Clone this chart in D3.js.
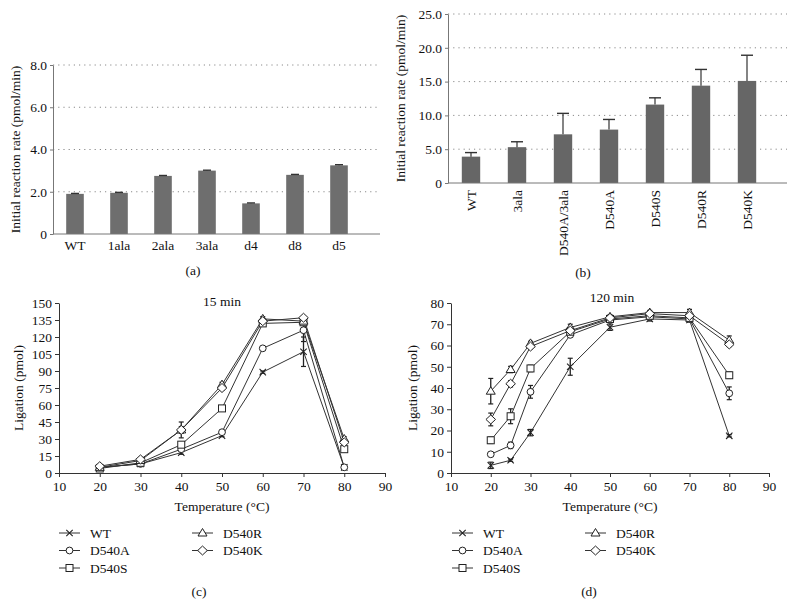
<!DOCTYPE html>
<html>
<head>
<meta charset="utf-8">
<script src="https://cdn.jsdelivr.net/npm/d3@7"></script>
<style>
  html, body { margin: 0; padding: 0; background: #fff; }
  svg text { font-family: "Liberation Serif", "DejaVu Serif", serif; fill: #111; }
</style>
</head>
<body>
<svg id="chart" width="787" height="606"></svg>
<script>
// ---------- DATA ----------
const catsA = ["WT", "1ala", "2ala", "3ala", "d4", "d8", "d5"];
const valsA = [1.90, 1.95, 2.75, 3.00, 1.45, 2.80, 3.25];
const errA  = [0.02, 0.02, 0.02, 0.02, 0.02, 0.02, 0.03];
const ticksA = [0, 2, 4, 6, 8];
const tickLabelsA = ["0", "2.0", "4.0", "6.0", "8.0"];

const catsB = ["WT", "3ala", "D540A/3ala", "D540A", "D540S", "D540R", "D540K"];
const valsB = [3.9, 5.3, 7.2, 7.9, 11.6, 14.4, 15.1];
const errB  = [0.6, 0.8, 3.1, 1.5, 1.0, 2.4, 3.8];
const ticksB = [0, 5, 10, 15, 20, 25];
const tickLabelsB = ["0", "5.0", "10.0", "15.0", "20.0", "25.0"];

const seriesNames = ["WT", "D540A", "D540S", "D540R", "D540K"];
const seriesMarkers = ["x", "circle", "square", "triangle", "diamond"];

const tempsC = [20, 30, 40, 50, 60, 70, 80];
const wtC     = [5, 8, 18, 33, 89, 107, 5];
const d540aC  = [5, 8, 21, 36, 110, 126, 5];
const d540sC  = [4, 9, 25, 57, 132, 133, 21];
const d540rC  = [5, 11, 38, 78, 136, 134, 30];
const d540kC  = [6, 12, 38, 75, 134, 137, 27];
const wtCErr    = [0.5, 0.5, 1.5, 1, 1, 13, 0.5];
const d540aCErr = [0.5, 0.5, 1, 1, 1, 10, 0.5];
const d540sCErr = [0.5, 0.5, 2, 1, 1, 2, 2];
const d540rCErr = [0.5, 1, 7, 2, 2, 2, 2];
const d540kCErr = [0.5, 1, 3, 2, 1, 1, 2];
const ticksCy = [0, 15, 30, 45, 60, 75, 90, 105, 120, 135, 150];

const tempsD = [20, 25, 30, 40, 50, 60, 70, 80];
const wtD     = [3.6, 6, 19, 50, 68.6, 72.5, 72, 17.5];
const d540aD  = [8.8, 13, 38.2, 65, 72, 73.5, 72.5, 37.5];
const d540sD  = [15.4, 26.7, 49.2, 66.5, 72.5, 74, 73, 46];
const d540rD  = [38.5, 48.7, 61, 68.5, 73.5, 75.5, 75.5, 62.5];
const d540kD  = [25.2, 42, 59.5, 67, 73, 75, 74, 60.5];
const wtDErr    = [1.5, 0.5, 1.5, 4, 1.5, 1, 1, 0.5];
const d540aDErr = [0.5, 1.5, 3, 1, 1, 1, 1, 3];
const d540sDErr = [1.5, 3.5, 1.5, 1, 1, 1, 1, 1.5];
const d540rDErr = [6, 1.5, 1, 1.5, 1, 1, 1.5, 2];
const d540kDErr = [3, 1.5, 1, 1, 1, 1, 1, 1];
const ticksDy = [0, 10, 20, 30, 40, 50, 60, 70, 80];

const ticksX = [10, 20, 30, 40, 50, 60, 70, 80, 90];

// ---------- DRAW ----------
const svg = d3.select("#chart");
const FS = 13.5;

function barPanel(cats, vals, errs, ticks, tickLabels, L, cfg) {
  const g = svg.append("g");
  const x = d3.scaleBand().domain(cats).range([cfg.x0, cfg.x1]).paddingInner(0.6).paddingOuter(0.3);
  const y = d3.scaleLinear().domain([ticks[0], ticks[ticks.length - 1]]).range([cfg.yb, cfg.yt]);
  g.selectAll("line.grid").data(ticks.slice(1)).join("line")
    .attr("x1", cfg.x0).attr("x2", cfg.xEnd)
    .attr("y1", d => y(d)).attr("y2", d => y(d))
    .attr("stroke", "#8a8a8a").attr("stroke-width", 1).attr("stroke-dasharray", "1.2,4");
  const ya = d3.axisLeft(y).tickValues(ticks).tickFormat((d, i) => tickLabels[i]).tickSize(3).tickSizeOuter(0).tickPadding(3);
  const yg = g.append("g").attr("transform", `translate(${cfg.x0},0)`).call(ya);
  yg.selectAll("text").style("font-size", FS + "px").attr("fill", "#111");
  yg.selectAll("line,path").attr("stroke", "#777");
  g.selectAll("rect.bar").data(cats).join("rect")
    .attr("x", d => x(d)).attr("width", x.bandwidth())
    .attr("y", (d, i) => y(vals[i])).attr("height", (d, i) => y(0) - y(vals[i]))
    .attr("fill", cfg.fill);
  const cap = cfg.cap;
  cats.forEach((c, i) => {
    const cx = x(c) + x.bandwidth() / 2;
    g.append("line").attr("x1", cx).attr("x2", cx).attr("y1", y(vals[i])).attr("y2", y(vals[i] + errs[i]))
      .attr("stroke", "#333").attr("stroke-width", 1.2);
    g.append("line").attr("x1", cx - cap / 2).attr("x2", cx + cap / 2)
      .attr("y1", y(vals[i] + errs[i])).attr("y2", y(vals[i] + errs[i]))
      .attr("stroke", "#333").attr("stroke-width", 1.4);
  });
  g.append("line").attr("x1", cfg.x0).attr("x2", cfg.xEnd).attr("y1", y(0)).attr("y2", y(0))
    .attr("stroke", "#777").attr("stroke-width", 1);
  if (!cfg.rotate) {
    g.selectAll("text.xl").data(cats).join("text")
      .attr("x", d => x(d) + x.bandwidth() / 2).attr("y", y(0) + 16)
      .attr("text-anchor", "middle").style("font-size", FS + "px").text(d => d);
  } else {
    g.selectAll("text.xl").data(cats).join("text")
      .attr("transform", d => `translate(${x(d) + x.bandwidth() / 2 + 4.5},${y(0) + 7}) rotate(-90)`)
      .attr("text-anchor", "end").style("font-size", FS + "px").text(d => d);
  }
  g.append("text").attr("transform", `translate(${cfg.ylx},${(cfg.yb + cfg.yt) / 2}) rotate(-90)`)
    .attr("text-anchor", "middle").style("font-size", FS + "px").text("Initial reaction rate (pmol/min)");
  g.append("text").attr("x", cfg.lx).attr("y", cfg.ly).attr("text-anchor", "middle")
    .style("font-size", FS + "px").text(L);
}

barPanel(catsA, valsA, errA, ticksA, tickLabelsA, "(a)",
  { x0: 53, x1: 361, xEnd: 380, yb: 234, yt: 65, fill: "#6e6e6e", cap: 8, rotate: false, ylx: 20, lx: 193, ly: 275 });
barPanel(catsB, valsB, errB, ticksB, tickLabelsB, "(b)",
  { x0: 448, x1: 770, xEnd: 787, yb: 183, yt: 14, fill: "#666666", cap: 12, rotate: true, ylx: 405, lx: 583, ly: 277 });

function drawMarker(g, type, cx, cy) {
  const st = "#222", sw = 1;
  if (type === "x") {
    const s = 3.2;
    g.append("path").attr("d", `M${cx - s},${cy - s}L${cx + s},${cy + s}M${cx - s},${cy + s}L${cx + s},${cy - s}`)
      .attr("stroke", st).attr("stroke-width", 1.1).attr("fill", "none");
  } else if (type === "circle") {
    g.append("circle").attr("cx", cx).attr("cy", cy).attr("r", 3.4).attr("fill", "#fff").attr("stroke", st).attr("stroke-width", sw);
  } else if (type === "square") {
    g.append("rect").attr("x", cx - 3.5).attr("y", cy - 3.5).attr("width", 7).attr("height", 7).attr("fill", "#fff").attr("stroke", st).attr("stroke-width", sw);
  } else if (type === "triangle") {
    g.append("path").attr("d", `M${cx},${cy - 4.5}L${cx + 4.5},${cy + 3}L${cx - 4.5},${cy + 3}Z`).attr("fill", "#fff").attr("stroke", st).attr("stroke-width", sw);
  } else if (type === "diamond") {
    g.append("path").attr("d", `M${cx},${cy - 4.5}L${cx + 4.8},${cy}L${cx},${cy + 4.5}L${cx - 4.8},${cy}Z`).attr("fill", "#fff").attr("stroke", st).attr("stroke-width", sw);
  }
}

function linePanel(temps, series, errs, yTicks, cfg) {
  const g = svg.append("g");
  const x = d3.scaleLinear().domain([10, 90]).range([cfg.x0, cfg.x1]);
  const y = d3.scaleLinear().domain([0, yTicks[yTicks.length - 1]]).range([cfg.yb, cfg.yt]);
  const ya = d3.axisLeft(y).tickValues(yTicks).tickSize(4).tickSizeOuter(0).tickPadding(3);
  const yg = g.append("g").attr("transform", `translate(${cfg.x0},0)`).call(ya);
  const xa = d3.axisBottom(x).tickValues(ticksX).tickSize(4).tickSizeOuter(0).tickPadding(4);
  const xg = g.append("g").attr("transform", `translate(0,${cfg.yb})`).call(xa);
  [yg, xg].forEach(a => {
    a.selectAll("text").style("font-size", FS + "px").attr("fill", "#111");
    a.selectAll("line,path").attr("stroke", "#333");
  });
  const line = d3.line().x((d, i) => x(temps[i])).y(d => y(d));
  series.forEach((s, k) => {
    g.append("path").datum(s).attr("d", line).attr("fill", "none").attr("stroke", "#333").attr("stroke-width", 1);
  });
  series.forEach((s, k) => {
    s.forEach((v, i) => {
      const e = errs[k][i];
      const cx = x(temps[i]);
      g.append("line").attr("x1", cx).attr("x2", cx).attr("y1", y(v - e)).attr("y2", y(v + e)).attr("stroke", "#222").attr("stroke-width", 1.3);
      [v - e, v + e].forEach(t => g.append("line").attr("x1", cx - 2.5).attr("x2", cx + 2.5).attr("y1", y(t)).attr("y2", y(t)).attr("stroke", "#222").attr("stroke-width", 1.2));
    });
  });
  series.forEach((s, k) => {
    s.forEach((v, i) => drawMarker(g, seriesMarkers[k], x(temps[i]), y(v)));
  });
  g.append("text").attr("x", cfg.tx).attr("y", cfg.ty).attr("text-anchor", "middle").style("font-size", FS + "px").text(cfg.title);
  g.append("text").attr("transform", `translate(${cfg.ylx},${(cfg.yb + cfg.yt) / 2}) rotate(-90)`)
    .attr("text-anchor", "middle").style("font-size", FS + "px").text("Ligation (pmol)");
  g.append("text").attr("x", (cfg.x0 + cfg.x1) / 2).attr("y", 511).attr("text-anchor", "middle")
    .style("font-size", FS + "px").text("Temperature (°C)");
  const pos = [[0, 0], [0, 1], [0, 2], [1, 0], [1, 1]];
  seriesNames.forEach((n, k) => {
    const col = pos[k][0], row = pos[k][1];
    const lx = cfg.legX[col];
    const ly = 533 + row * 17.5;
    g.append("line").attr("x1", lx).attr("x2", lx + 21).attr("y1", ly).attr("y2", ly).attr("stroke", "#333").attr("stroke-width", 1);
    drawMarker(g, seriesMarkers[k], lx + 10.5, ly);
    g.append("text").attr("x", lx + 31).attr("y", ly).attr("dy", "0.35em").style("font-size", FS + "px").text(n);
  });
  g.append("text").attr("x", cfg.lx).attr("y", 596).attr("text-anchor", "middle").style("font-size", FS + "px").text(cfg.label);
}

linePanel(tempsC, [wtC, d540aC, d540sC, d540rC, d540kC], [wtCErr, d540aCErr, d540sCErr, d540rCErr, d540kCErr], ticksCy,
  { x0: 59, x1: 385, yb: 473, yt: 303, title: "15 min", tx: 222, ty: 306, ylx: 23, legX: [59, 192], label: "(c)", lx: 199 });
linePanel(tempsD, [wtD, d540aD, d540sD, d540rD, d540kD], [wtDErr, d540aDErr, d540sDErr, d540rDErr, d540kDErr], ticksDy,
  { x0: 451, x1: 769, yb: 473, yt: 303, title: "120 min", tx: 612, ty: 302, ylx: 417, legX: [452, 585], label: "(d)", lx: 589 });
</script>
</body>
</html>
